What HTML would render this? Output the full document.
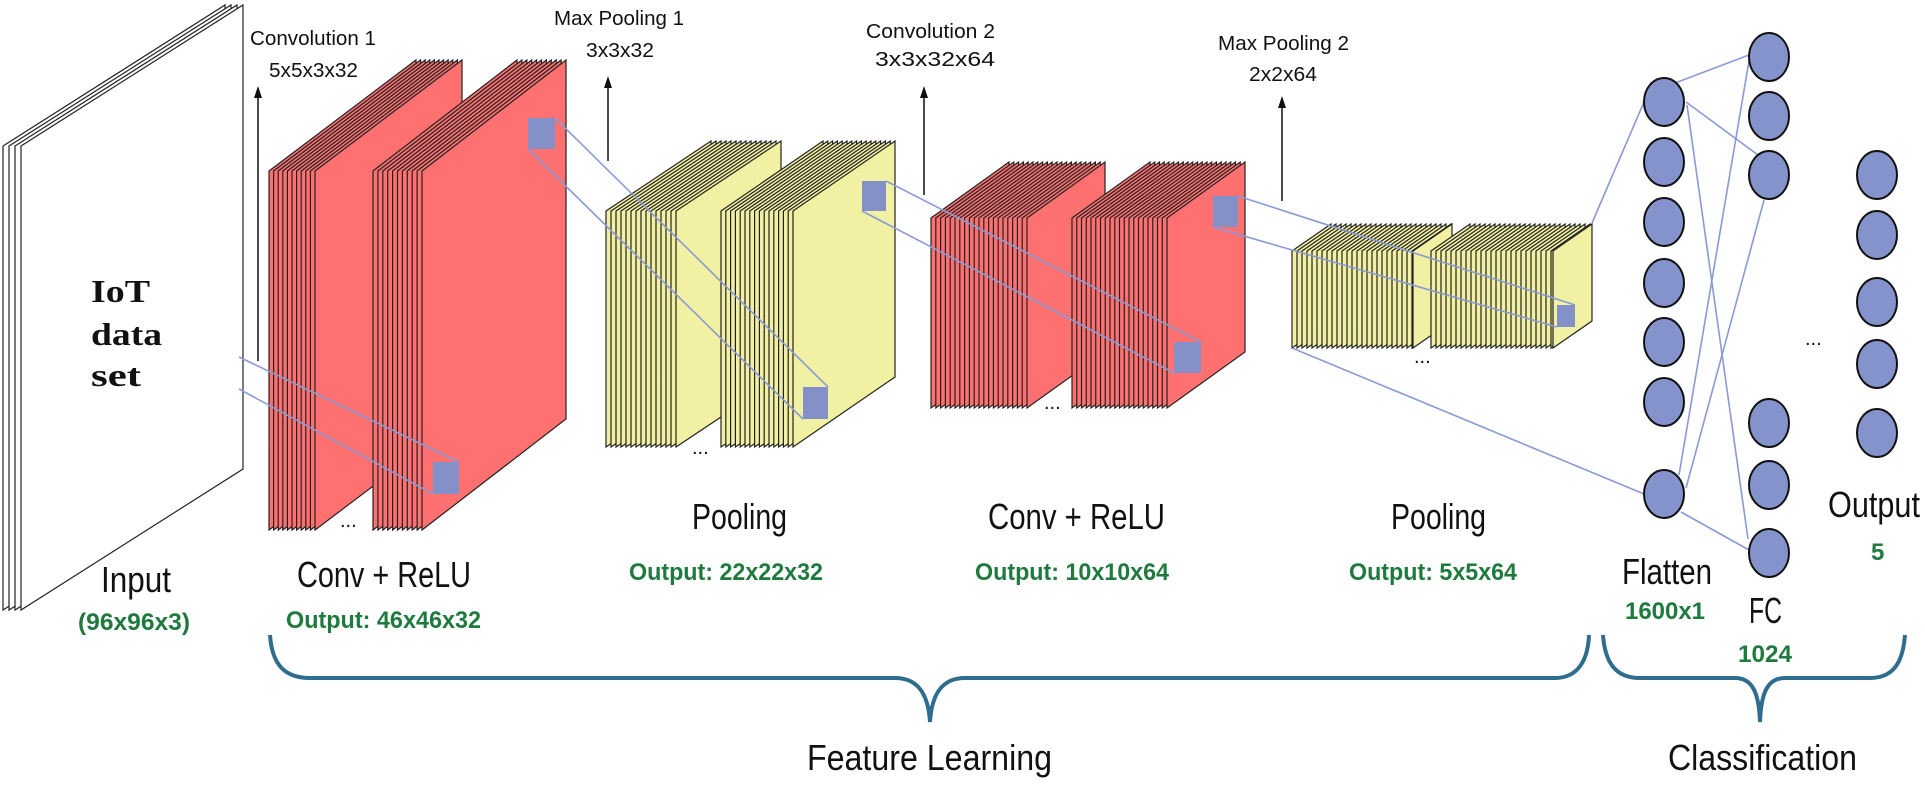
<!DOCTYPE html>
<html><head><meta charset="utf-8"><style>
html,body{margin:0;padding:0;background:#fff;}
svg{display:block;}
text{font-family:"Liberation Sans",sans-serif;}
.t{font-size:20px;fill:#111;}
.b{font-size:36px;fill:#111;}
.g{font-size:24px;fill:#1f7a3e;font-weight:bold;}
.s text{font-family:"Liberation Serif",serif;font-weight:bold;font-size:32px;fill:#111;}
</style></head><body>
<svg id="sv" width="1925" height="787" viewBox="0 0 1925 787" xmlns="http://www.w3.org/2000/svg">
<g id="stacks"></g>
<g stroke="#8a9ad6" stroke-width="1.6" fill="none">
<line x1="239" y1="357" x2="459" y2="462"/><line x1="239" y1="389" x2="433" y2="494"/>
<line x1="555" y1="118" x2="828" y2="387"/><line x1="528" y1="149" x2="803" y2="419"/>
<line x1="886" y1="181" x2="1201" y2="342"/><line x1="862" y1="211" x2="1174" y2="373"/>
<line x1="1238" y1="196" x2="1575" y2="305"/><line x1="1213" y1="227" x2="1557" y2="327"/>
<line x1="1592" y1="223" x2="1644" y2="102"/><line x1="1292" y1="348" x2="1644" y2="494"/>
<line x1="1675" y1="83" x2="1749" y2="55"/><line x1="1686" y1="102" x2="1758" y2="155"/><line x1="1687" y1="105" x2="1748" y2="539"/>
<line x1="1679" y1="475" x2="1750" y2="55"/><line x1="1686" y1="488" x2="1764" y2="200"/><line x1="1681" y1="512" x2="1749" y2="550"/>
</g>
<g fill="#8491c8">
<rect x="433" y="462" width="26" height="32"/><rect x="528" y="118" width="27" height="31"/>
<rect x="803" y="387" width="25" height="32"/><rect x="862" y="181" width="24" height="30"/>
<rect x="1174" y="342" width="27" height="31"/><rect x="1213" y="196" width="25" height="31"/>
<rect x="1557" y="305" width="18" height="22"/>
</g>
<g fill="#8493cb" stroke="#111" stroke-width="2">
<ellipse cx="1664" cy="102" rx="20" ry="24"/><ellipse cx="1664" cy="162" rx="20" ry="24"/><ellipse cx="1664" cy="222" rx="20" ry="24"/><ellipse cx="1664" cy="283" rx="20" ry="24"/><ellipse cx="1664" cy="342" rx="20" ry="24"/><ellipse cx="1664" cy="402" rx="20" ry="24"/><ellipse cx="1664" cy="494" rx="20" ry="24"/>
<ellipse cx="1769" cy="57" rx="20" ry="24"/><ellipse cx="1769" cy="116" rx="20" ry="24"/><ellipse cx="1769" cy="175" rx="20" ry="24"/><ellipse cx="1769" cy="423" rx="20" ry="24"/><ellipse cx="1769" cy="485" rx="20" ry="24"/><ellipse cx="1769" cy="553" rx="20" ry="24"/>
<ellipse cx="1877" cy="175" rx="20" ry="24"/><ellipse cx="1877" cy="235" rx="20" ry="24"/><ellipse cx="1877" cy="302" rx="20" ry="24"/><ellipse cx="1877" cy="364" rx="20" ry="24"/><ellipse cx="1877" cy="433" rx="20" ry="24"/>
</g>
<g stroke="#111" stroke-width="1.5">
<line x1="258" y1="361" x2="258" y2="96"/>
<line x1="608" y1="161" x2="608" y2="86"/>
<line x1="924" y1="195" x2="924" y2="96"/>
<line x1="1282" y1="201" x2="1282" y2="106"/>
</g>
<g fill="#111">
<polygon points="254,98 258,86 262,98"/>
<polygon points="604,88 608,76 612,88"/>
<polygon points="920,98 924,86 928,98"/>
<polygon points="1278,108 1282,96 1286,108"/>
</g>
<g class="t">
<text x="250" y="45" textLength="126" lengthAdjust="spacingAndGlyphs">Convolution 1</text>
<text x="269" y="77" textLength="89" lengthAdjust="spacingAndGlyphs">5x5x3x32</text>
<text x="554" y="25" textLength="130" lengthAdjust="spacingAndGlyphs">Max Pooling 1</text>
<text x="586" y="57" textLength="68" lengthAdjust="spacingAndGlyphs">3x3x32</text>
<text x="866" y="38" textLength="129" lengthAdjust="spacingAndGlyphs">Convolution 2</text>
<text x="875" y="66" textLength="120" lengthAdjust="spacingAndGlyphs">3x3x32x64</text>
<text x="1218" y="50" textLength="131" lengthAdjust="spacingAndGlyphs">Max Pooling 2</text>
<text x="1249" y="81" textLength="68" lengthAdjust="spacingAndGlyphs">2x2x64</text>
</g>
<g class="s">
<text x="91" y="302" textLength="59" lengthAdjust="spacingAndGlyphs">IoT</text>
<text x="91" y="345" textLength="71" lengthAdjust="spacingAndGlyphs">data</text>
<text x="91" y="386" textLength="50" lengthAdjust="spacingAndGlyphs">set</text>
</g>
<g class="b">
<text x="101" y="592" textLength="70" lengthAdjust="spacingAndGlyphs">Input</text>
<text x="297" y="587" textLength="174" lengthAdjust="spacingAndGlyphs">Conv + ReLU</text>
<text x="692" y="529" textLength="95" lengthAdjust="spacingAndGlyphs">Pooling</text>
<text x="988" y="529" textLength="177" lengthAdjust="spacingAndGlyphs">Conv + ReLU</text>
<text x="1391" y="529" textLength="95" lengthAdjust="spacingAndGlyphs">Pooling</text>
<text x="1622" y="584" textLength="90" lengthAdjust="spacingAndGlyphs">Flatten</text>
<text x="1749" y="623" textLength="33" lengthAdjust="spacingAndGlyphs">FC</text>
<text x="1828" y="517" textLength="92" lengthAdjust="spacingAndGlyphs">Output</text>
<text x="807" y="770" textLength="245" lengthAdjust="spacingAndGlyphs">Feature Learning</text>
<text x="1668" y="770" textLength="189" lengthAdjust="spacingAndGlyphs">Classification</text>
</g>
<g class="g">
<text x="78" y="630" textLength="112" lengthAdjust="spacingAndGlyphs">(96x96x3)</text>
<text x="286" y="628" textLength="195" lengthAdjust="spacingAndGlyphs">Output: 46x46x32</text>
<text x="629" y="580" textLength="194" lengthAdjust="spacingAndGlyphs">Output: 22x22x32</text>
<text x="975" y="580" textLength="194" lengthAdjust="spacingAndGlyphs">Output: 10x10x64</text>
<text x="1349" y="580" textLength="168" lengthAdjust="spacingAndGlyphs">Output: 5x5x64</text>
<text x="1625" y="619" textLength="80" lengthAdjust="spacingAndGlyphs">1600x1</text>
<text x="1738" y="662" textLength="54" lengthAdjust="spacingAndGlyphs">1024</text>
<text x="1871" y="560">5</text>
</g>
<g font-size="20" fill="#111">
<text x="340" y="527">...</text><text x="692" y="454">...</text><text x="1044" y="409">...</text><text x="1414" y="363">...</text><text x="1805" y="345">...</text>
</g>
<g stroke="#2f6d8e" stroke-width="4" fill="none">
<path d="M270,635 C272,665 285,678 310,678 L895,678 C915,678 928,690 930,722 C932,690 945,678 965,678 L1555,678 C1578,678 1588,660 1589,635"/>
<path d="M1603,635 C1605,662 1615,678 1640,678 L1735,678 C1752,678 1759,692 1760,722 C1761,692 1768,678 1785,678 L1870,678 C1895,678 1903,660 1905,635"/>
</g>
</svg>
<script>
var R='#ff7070',Y='#f2f0a2';
var B=[[3,21,222,146,141,610,'#fff',6],[269,315,147,171,111,530,R,4.6],[373,422,144,171,111,530,R,4.9],
[606,676,105,211,70,447,Y,5],[721,793,102,211,70,447,Y,4.8],[931,1027,78,218,56,408,R,4.8],[1072,1167,78,218,56,408,R,4.75],
[1292,1413,39,251,27,348,Y,5],[1431,1553,39,251,27,348,Y,5]];
var g=document.getElementById('stacks'),h='';
B.forEach(function(b){var x0=b[0],xf=b[1],w=b[2],t=b[3],r=b[4],bt=b[5],c=b[6],s=b[7];
var xs=[];for(var x=x0;x<xf-0.5;x+=s)xs.push(x);xs.push(xf);
xs.forEach(function(x){h+='<polygon points="'+x+','+t+' '+(x+w)+','+(t-r)+' '+(x+w)+','+(bt-r)+' '+x+','+bt+'" fill="'+c+'" stroke="#222" stroke-width="1.2"/>';});});
g.innerHTML=h;
</script>
</body></html>
